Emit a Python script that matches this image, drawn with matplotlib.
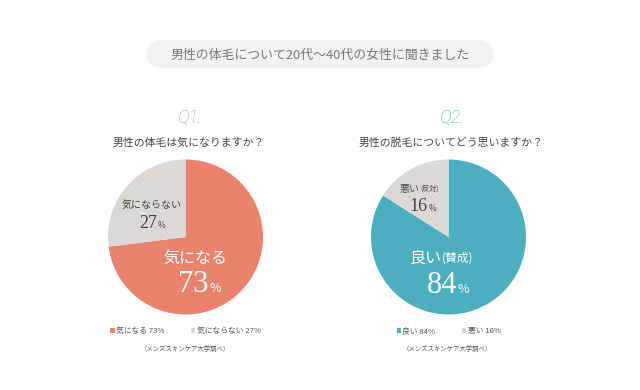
import matplotlib
matplotlib.use("Agg")
import matplotlib.pyplot as plt
from matplotlib.patches import FancyBboxPatch

plt.rcParams['font.family'] = ['Noto Sans CJK JP', 'DejaVu Sans']
plt.rcParams['hatch.linewidth'] = 0.4

# data
title = "男性の体毛について20代～40代の女性に聞きました"
q_heads = ["Q1.", "Q2."]
questions = ["男性の体毛は気になりますか？", "男性の脱毛についてどう思いますか？"]
q1_labels = ["気になる", "気にならない"]
q1_values = [73, 27]
q2_labels = ["良い", "悪い"]
q2_notes = ["(賛成)", "(反対)"]
q2_values = [84, 16]
source = "（メンズスキンケア大学調べ）"

SALMON = "#E9836D"
TEAL = "#4BAFBF"
GREY = "#DEDAD8"
HATCH = "#D4CFCD"
DARK = "#444444"

W, H = 640, 390
fig = plt.figure(figsize=(6.4, 3.9), dpi=100)


def draw_pie(cx, values, colors, legend_labels):
    r = 77.5
    ax = fig.add_axes([(cx - r) / W, (H - 237 - r) / H, 2 * r / W, 2 * r / H])
    wedges, _ = ax.pie(values, colors=colors, startangle=90, counterclock=False,
                       radius=1, wedgeprops=dict(linewidth=0))
    wedges[1].set_hatch("//////")
    wedges[1].set_edgecolor(HATCH)
    wedges[1].set_linewidth(0)
    ax.set_xlim(-1, 1)
    ax.set_ylim(-1, 1)
    ax.set_aspect("equal")
    ax.legend(wedges, legend_labels, loc="upper center",
              bbox_to_anchor=(0.5, -0.035), ncol=2, frameon=False,
              fontsize=5.6, handlelength=0.55, handleheight=0.55,
              handletextpad=0.2, columnspacing=3.4, labelcolor="#555555")
    return ax


draw_pie(185.5, q1_values, [SALMON, GREY],
         [f"{l} {v}%" for l, v in zip(q1_labels, q1_values)])
draw_pie(448.5, q2_values, [TEAL, GREY],
         [f"{l} {v}%" for l, v in zip(q2_labels, q2_values)])

# overlay axes in pixel units for all the free text
top = fig.add_axes([0, 0, 1, 1])
top.set_xlim(0, W)
top.set_ylim(H, 0)
top.axis("off")
top.patch.set_alpha(0)
top.add_patch(FancyBboxPatch((147, 40), 493 - 147, 28,
                             boxstyle="round,pad=0,rounding_size=14",
                             fc="#F2F2F2", ec="none"))


def ftext(x, y, s, **kw):
    kw.setdefault("ha", "center")
    kw.setdefault("va", "center")
    top.text(x, y, s, **kw)


ftext(320, 55, title, fontsize=9.3, color="#777777")

# Q1
ftext(189, 118, q_heads[0], fontsize=13, color=SALMON, family="Roboto",
      fontweight="light", style="italic")
ftext(189, 143, questions[0], fontsize=7.8, color=DARK)
ftext(195, 258, q1_labels[0], fontsize=11.5, color="white")
ftext(208, 292, str(q1_values[0]), ha="right", va="baseline", fontsize=22,
      color="white", family="Liberation Serif")
ftext(209, 292, "%", ha="left", va="baseline", fontsize=9, color="white")
ftext(152, 205, q1_labels[1], fontsize=7.2, color=DARK)
ftext(157, 228, str(q1_values[1]), ha="right", va="baseline", fontsize=13,
      color=DARK, family="Liberation Serif")
ftext(158, 228, "%", ha="left", va="baseline", fontsize=6, color=DARK)
ftext(185, 349, source, fontsize=4.6, color="#555555")

# Q2
ftext(452, 118, q_heads[1], fontsize=13, color=TEAL, family="Roboto",
      fontweight="light", style="italic")
ftext(451, 143, questions[1], fontsize=7.8, color=DARK)
ftext(442, 258, q2_labels[0], ha="right", fontsize=11.5, color="white")
ftext(442, 258, q2_notes[0], ha="left", fontsize=8.5, color="white")
ftext(457, 293, str(q2_values[0]), ha="right", va="baseline", fontsize=22,
      color="white", family="Liberation Serif")
ftext(458, 293, "%", ha="left", va="baseline", fontsize=9, color="white")
ftext(420, 189, q2_labels[1], ha="right", fontsize=7.2, color=DARK)
ftext(420, 189, q2_notes[1], ha="left", fontsize=5, color=DARK)
ftext(428, 211, str(q2_values[1]), ha="right", va="baseline", fontsize=13,
      color=DARK, family="Liberation Serif")
ftext(429, 211, "%", ha="left", va="baseline", fontsize=6, color=DARK)
ftext(447, 349, source, fontsize=4.6, color="#555555")

fig.savefig("out.png", dpi=100, facecolor="white")
